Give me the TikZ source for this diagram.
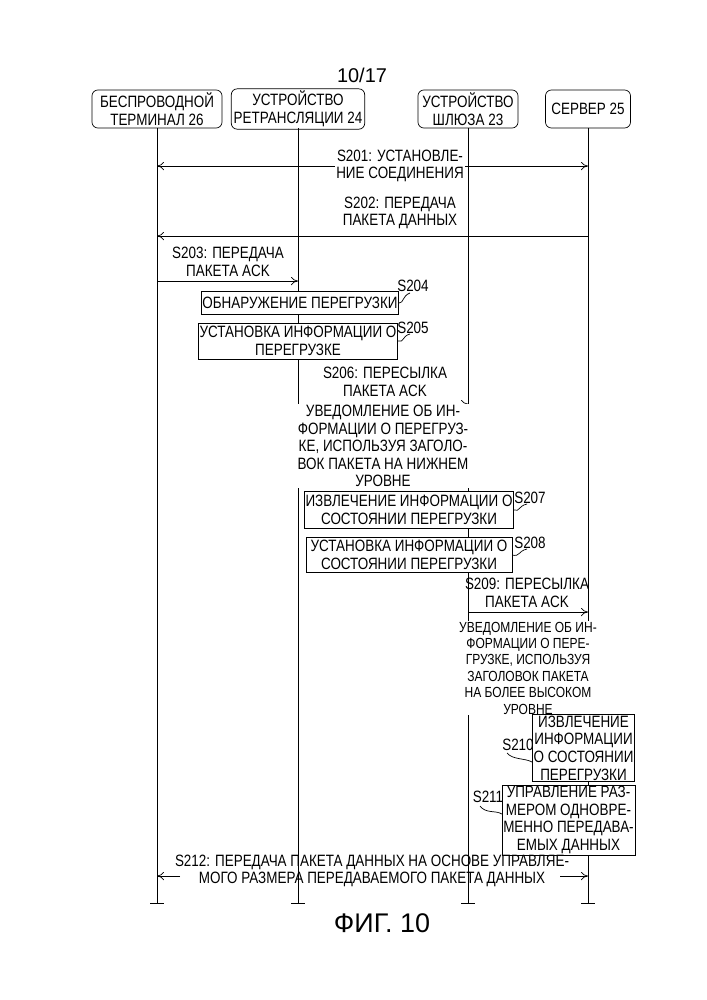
\documentclass[tikz,border=0pt]{standalone}
\usepackage{fontspec}
\setmainfont{Liberation Sans}[FakeStretch=0.82]
\newfontfamily\widefont{Liberation Sans}
\usetikzlibrary{arrows.meta}
\tikzset{
  actor/.style={draw, rounded corners=5pt, align=center, font=\fontsize{14}{15}\selectfont, inner sep=2pt},
  stepbox/.style={draw, fill=white, align=center, font=\fontsize{14}{15}\selectfont, inner sep=1pt},
  msg/.style={align=center, font=\fontsize{14}{15}\selectfont, inner sep=1pt},
  note/.style={align=center, font=\fontsize{12.5}{14}\selectfont, inner sep=1pt},
  tag/.style={font=\fontsize{14}{15}\selectfont, inner sep=1pt},
  arr/.style={-{To[length=6pt,width=7pt]}},
  life/.style={line width=0.6pt}
}
\begin{document}
\begin{tikzpicture}[x=0.03cm,y=-0.03cm, line width=0.6pt]
\useasboundingbox (0,0) rectangle (707,1000);
\node[font=\widefont\fontsize{17}{18}\selectfont] (page) at (362,75) {10/17};

% participants
\node[actor, minimum width=130*0.03cm, minimum height=38*0.03cm] (A) at (157,109) {БЕСПРОВОДНОЙ\\ТЕРМИНАЛ 26};
\node[actor, minimum width=130*0.03cm, minimum height=38*0.03cm] (B) at (298,109) {УСТРОЙСТВО\\РЕТРАНСЛЯЦИИ 24};
\node[actor, minimum width=100*0.03cm, minimum height=38*0.03cm] (C) at (468,109) {УСТРОЙСТВО\\ШЛЮЗА 23};
\node[actor, minimum width=85*0.03cm, minimum height=38*0.03cm] (D) at (588,109) {СЕРВЕР 25};

% lifelines
\foreach \n/\x in {a/157,b/298,c/468,d/588}{
  \coordinate (\n0) at (\x,903);
  \draw[life] (\x,128) -- (\n0);
  \draw[life] ([xshift=-7*0.03cm]\n0) -- ([xshift=7*0.03cm]\n0);
}
\coordinate (a1) at (157,166); \coordinate (d1) at (588,166);
\coordinate (a2) at (157,236); \coordinate (d2) at (588,236);
\coordinate (a3) at (157,281); \coordinate (b3) at (298,281);
\coordinate (b6) at (298,404); \coordinate (c6) at (468,404);
\coordinate (c9) at (468,612); \coordinate (d9) at (588,612);
\coordinate (a12) at (157,876); \coordinate (d12) at (588,876);

% S201
\draw[arr] (400,166) -- (a1);
\draw[arr] (400,166) -- (d1);
\node[msg, fill=white] (m1) at (400,166) {S201: УСТАНОВЛЕ-\\НИЕ СОЕДИНЕНИЯ};
% S202
\draw[arr] (d2) -- (a2);
\node[msg] (m2) at (400,213) {S202: ПЕРЕДАЧА\\ПАКЕТА ДАННЫХ};
% S203
\draw[arr] (a3) -- (b3);
\node[msg] (m3) at (228,262) {S203: ПЕРЕДАЧА\\ПАКЕТА ACK};
% S204, S205
\node[stepbox, minimum width=193*0.03cm, minimum height=23*0.03cm] (s204) at (300,303) {ОБНАРУЖЕНИЕ ПЕРЕГРУЗКИ};
\node[tag] (t204) at (413,286) {S204};
\draw (s204.east) .. controls (404,303) and (402,296) .. (410,293);
\node[stepbox, minimum width=196*0.03cm, minimum height=36*0.03cm] (s205) at (298,341) {УСТАНОВКА ИНФОРМАЦИИ О\\ПЕРЕГРУЗКЕ};
\node[tag] (t205) at (413,328) {S205};
\draw (s205.east) .. controls (404,343) and (402,336) .. (410,334);
% S206
\draw[arr] (b6) -- (c6);
\node[msg] (m6) at (385,382) {S206: ПЕРЕСЫЛКА\\ПАКЕТА ACK};
\node[msg, fill=white] (n1) at (383,446) {УВЕДОМЛЕНИЕ ОБ ИН-\\ФОРМАЦИИ О ПЕРЕГРУЗ-\\КЕ, ИСПОЛЬЗУЯ ЗАГОЛО-\\ВОК ПАКЕТА НА НИЖНЕМ\\УРОВНЕ};
% S207, S208
\node[stepbox, minimum width=206*0.03cm, minimum height=37*0.03cm] (s207) at (409,510) {ИЗВЛЕЧЕНИЕ ИНФОРМАЦИИ О\\СОСТОЯНИИ ПЕРЕГРУЗКИ};
\node[tag] (t207) at (530,498) {S207};
\draw (s207.east) .. controls (520,512) and (518,506) .. (527,504);
\node[stepbox, minimum width=206*0.03cm, minimum height=35*0.03cm] (s208) at (409,555) {УСТАНОВКА ИНФОРМАЦИИ О\\СОСТОЯНИИ ПЕРЕГРУЗКИ};
\node[tag] (t208) at (530,543) {S208};
\draw (s208.east) .. controls (520,557) and (518,551) .. (527,549);
% S209
\draw[arr] (c9) -- (d9);
\node[msg] (m9) at (527,593) {S209: ПЕРЕСЫЛКА\\ПАКЕТА ACK};
\node[note, fill=white] (n2) at (528,668) {УВЕДОМЛЕНИЕ ОБ ИН-\\ФОРМАЦИИ О ПЕРЕ-\\ГРУЗКЕ, ИСПОЛЬЗУЯ\\ЗАГОЛОВОК ПАКЕТА\\НА БОЛЕЕ ВЫСОКОМ\\УРОВНЕ};
% S210, S211
\node[stepbox, minimum width=97*0.03cm, minimum height=63*0.03cm] (s210) at (583.5,748) {ИЗВЛЕЧЕНИЕ\\ИНФОРМАЦИИ\\О СОСТОЯНИИ\\ПЕРЕГРУЗКИ};
\node[tag] (t210) at (518,745) {S210};
\draw (507,753) .. controls (513,760) and (525,758) .. (s210.west |- 0,762);
\node[stepbox, minimum width=127*0.03cm, minimum height=63*0.03cm] (s211) at (568.5,820) {УПРАВЛЕНИЕ РАЗ-\\МЕРОМ ОДНОВРЕ-\\МЕННО ПЕРЕДАВА-\\ЕМЫХ ДАННЫХ};
\node[tag] (t211) at (488,797) {S211};
\draw (480,806) .. controls (486,814) and (496,810) .. (s211.west |- 0,814);
% S212
\draw[arr] (180,876) -- (a12);
\draw[arr] (560,876) -- (d12);
\node[msg] (m12) at (372,871) {S212: ПЕРЕДАЧА ПАКЕТА ДАННЫХ НА ОСНОВЕ УПРАВЛЯЕ-\\МОГО РАЗМЕРА ПЕРЕДАВАЕМОГО ПАКЕТА ДАННЫХ};

\node[font=\widefont\fontsize{23}{24}\selectfont] (fig) at (382,923) {ФИГ. 10};
\end{tikzpicture}
\end{document}
